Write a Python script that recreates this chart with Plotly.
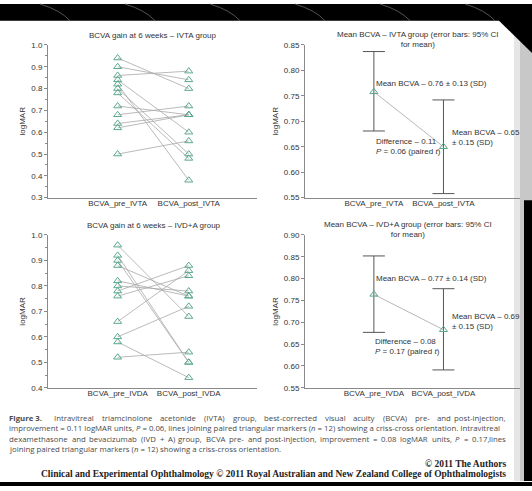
import plotly.graph_objects as go

W, H = 532, 491

# paired logMAR values, IVTA group
ivta_cats = ["BCVA_pre_IVTA", "BCVA_post_IVTA"]
ivta_pre = [0.94, 0.90, 0.86, 0.84, 0.82, 0.80, 0.78, 0.72, 0.68, 0.64, 0.62, 0.50]
ivta_post = [0.80, 0.84, 0.88, 0.60, 0.38, 0.50, 0.48, 0.68, 0.72, 0.68, 0.68, 0.56]

# paired logMAR values, IVD+A group
ivda_cats = ["BCVA_pre_IVDA", "BCVA_post_IVDA"]
ivda_pre = [0.96, 0.92, 0.90, 0.88, 0.82, 0.80, 0.78, 0.76, 0.66, 0.60, 0.58, 0.52]
ivda_post = [0.68, 0.50, 0.50, 0.76, 0.76, 0.78, 0.88, 0.84, 0.86, 0.72, 0.44, 0.54]

# means with 95% CI
ivta_mean = [0.758, 0.650]
ivta_ci_hi = [0.837, 0.742]
ivta_ci_lo = [0.681, 0.558]
ivda_mean = [0.764, 0.683]
ivda_ci_hi = [0.852, 0.777]
ivda_ci_lo = [0.677, 0.591]

GREEN = "#5aa98b"
LINE = "#a8a8a8"
TXT = "#333333"
AX = "#8a8a8a"
FONT = "Liberation Sans, Arial, sans-serif"


def px_x(p):
    return p / W


def px_y(p):
    return 1 - p / H


fig = go.Figure()

marker = dict(symbol="triangle-up-open", size=7, color=GREEN, line=dict(width=1, color=GREEN))

for pre, post in zip(ivta_pre, ivta_post):
    fig.add_trace(go.Scatter(x=ivta_cats, y=[pre, post], mode="lines+markers",
                             line=dict(color=LINE, width=0.8), marker=marker,
                             xaxis="x", yaxis="y", showlegend=False))

for pre, post in zip(ivda_pre, ivda_post):
    fig.add_trace(go.Scatter(x=ivda_cats, y=[pre, post], mode="lines+markers",
                             line=dict(color=LINE, width=0.8), marker=marker,
                             xaxis="x3", yaxis="y3", showlegend=False))


def mean_trace(cats, m, hi, lo, xa, ya):
    return go.Scatter(
        x=cats, y=m, mode="lines+markers",
        line=dict(color="#b8b8b8", width=1), marker=marker,
        error_y=dict(type="data", symmetric=False,
                     array=[h - v for h, v in zip(hi, m)],
                     arrayminus=[v - l for l, v in zip(lo, m)],
                     color="#555555", thickness=1, width=11),
        xaxis=xa, yaxis=ya, showlegend=False)


fig.add_trace(mean_trace(ivta_cats, ivta_mean, ivta_ci_hi, ivta_ci_lo, "x2", "y2"))
fig.add_trace(mean_trace(ivda_cats, ivda_mean, ivda_ci_hi, ivda_ci_lo, "x4", "y4"))

top_dom = [px_y(197.3), px_y(41.7)]
bot_dom = [px_y(391), px_y(235.3)]
left_dom = [px_x(48), px_x(257)]
right_dom = [px_x(305), px_x(520)]

xcommon = dict(type="category", showline=True, linecolor=AX, linewidth=1, ticks="",
               ticklabelstandoff=-2,
               showgrid=False, zeroline=False, tickfont=dict(size=8, color=TXT, family=FONT))
ycommon = dict(showline=True, linecolor=AX, linewidth=1, ticks="outside", ticklen=3,
               tickcolor=AX, showgrid=False, zeroline=False,
               tickfont=dict(size=8, color=TXT, family=FONT),
               title=dict(text="logMAR", font=dict(size=8, color=TXT, family=FONT), standoff=4))

fig.update_layout(
    xaxis=dict(xcommon, domain=left_dom, anchor="y", range=[-0.98, 1.96]),
    yaxis=dict(ycommon, domain=top_dom, anchor="x", range=[0.3, 1.0], dtick=0.1, tickformat=".1f",
               minor=dict(ticks="outside", ticklen=2, tickcolor=AX, dtick=0.05)),
    xaxis2=dict(xcommon, domain=right_dom, anchor="y2", range=[-0.99, 2.1]),
    yaxis2=dict(ycommon, domain=top_dom, anchor="x2", range=[0.55, 0.85], dtick=0.05, tickformat=".2f"),
    xaxis3=dict(xcommon, domain=left_dom, anchor="y3", range=[-0.98, 1.96]),
    yaxis3=dict(ycommon, domain=bot_dom, anchor="x3", range=[0.4, 1.0], dtick=0.1, tickformat=".1f",
                minor=dict(ticks="outside", ticklen=2, tickcolor=AX, dtick=0.05)),
    xaxis4=dict(xcommon, domain=right_dom, anchor="y4", range=[-0.99, 2.1]),
    yaxis4=dict(ycommon, domain=bot_dom, anchor="x4", range=[0.55, 0.90], dtick=0.05, tickformat=".2f"),
)

ann = []


def note(text, x, y, xref, yref, xanchor="left", size=8, color=TXT, family=FONT, align="left"):
    ann.append(dict(text=text, x=x, y=y, xref=xref, yref=yref, xanchor=xanchor, yanchor="middle",
                    showarrow=False, align=align, font=dict(size=size, color=color, family=family)))


# panel titles
note("BCVA gain at 6 weeks – IVTA group", px_x(152), px_y(32), "paper", "paper", "center")
note("Mean BCVA – IVTA group (error bars: 95% CI<br>for mean)", px_x(418), px_y(36.5),
     "paper", "paper", "center", align="center")
note("BCVA gain at 6 weeks – IVD+A group", px_x(154), px_y(226), "paper", "paper", "center")
note("Mean BCVA – IVD+A group (error bars: 95% CI<br>for mean)", px_x(408), px_y(230),
     "paper", "paper", "center", align="center")

# in-plot labels
note("Mean BCVA – 0.76 ± 0.13 (SD)", 0.0, 0.774, "x2", "y2")
note("Difference – 0.11<br><i>P</i> = 0.06 (paired <i>t</i>)", 0.0, 0.651, "x2", "y2")
note("Mean BCVA – 0.65<br>± 0.15 (SD)", 1.09, 0.669, "x2", "y2")
note("Mean BCVA – 0.77 ± 0.14 (SD)", 0.0, 0.80, "x4", "y4")
note("Mean BCVA – 0.69<br>± 0.15 (SD)", 1.09, 0.701, "x4", "y4")
note("Difference – 0.08<br><i>P</i> = 0.17 (paired <i>t</i>)", -0.01, 0.645, "x4", "y4")

# caption, justified word by word like the printed page
cap_font = "Open Sans, Noto Sans, sans-serif"
cap_size = 7.8
cap_col = "#4a4a4a"
caption = [
    "<b>Figure 3.</b> Intravitreal triamcinolone acetonide (IVTA) group, best-corrected visual acuity (BCVA) pre- and post-injection,",
    "improvement = 0.11 logMAR units, <i>P</i> = 0.06, lines joining paired triangular markers (<i>n</i> = 12) showing a criss-cross orientation. Intravitreal",
    "dexamethasone and bevacizumab (IVD + A) group, BCVA pre- and post-injection, improvement = 0.08 logMAR units, <i>P</i> = 0.17, lines",
    "joining paired triangular markers (<i>n</i> = 12) showing a criss-cross orientation.",
]

EM = {" ": 0.26, "i": 0.25, "l": 0.25, "j": 0.25, "f": 0.33, "t": 0.35, "r": 0.41,
      ".": 0.27, ",": 0.27, "(": 0.3, ")": 0.3, "-": 0.32, "=": 0.57, "+": 0.57,
      "m": 0.93, "w": 0.78, "c": 0.48, "s": 0.48, "v": 0.5, "y": 0.5, "x": 0.52,
      "z": 0.47, "k": 0.53, "I": 0.29, "M": 0.9, "D": 0.72, "A": 0.63, "B": 0.65,
      "C": 0.63, "V": 0.6, "T": 0.55, "P": 0.6, "F": 0.53, "R": 0.62}


def est_width(word):
    plain = word.replace("<b>", "").replace("</b>", "").replace("<i>", "").replace("</i>", "")
    w = sum(EM.get(ch, 0.57) for ch in plain) * cap_size
    if "<b>" in word:
        w *= 1.08
    return w


left_px, right_px = 7, 508
# line 2 sets naturally to the full measure: use it to calibrate the estimates
calib = (right_px - left_px) / est_width(caption[1])

for i, line in enumerate(caption):
    yy = px_y(422 + i * 10.4)
    if i in (1, 3):
        note(line, px_x(left_px), yy, "paper", "paper", "left", size=cap_size,
             color=cap_col, family=cap_font)
        continue
    words = line.replace("<b>Figure 3.</b>", "<b>Figure\u00a03.</b>").split(" ")
    widths = [est_width(w) * calib for w in words]
    gap = (right_px - left_px - sum(widths)) / (len(words) - 1)
    xpos = left_px
    for j, wd in enumerate(words):
        if j == len(words) - 1:
            note(wd, px_x(right_px), yy, "paper", "paper", "right", size=cap_size,
                 color=cap_col, family=cap_font)
        else:
            note(wd, px_x(xpos), yy, "paper", "paper", "left", size=cap_size,
                 color=cap_col, family=cap_font)
        xpos += widths[j] + gap

note("© 2011 The Authors", px_x(508), px_y(469), "paper", "paper", "right", size=9.5,
     color="#222222", family="Liberation Serif, serif")
note("Clinical and Experimental Ophthalmology © 2011 Royal Australian and New Zealand College of Ophthalmologists",
     px_x(508), px_y(479), "paper", "paper", "right", size=9.5, color="#222222",
     family="Liberation Serif, serif")

for a in ann[-2:]:
    a["font"]["weight"] = "bold"

# page frame: dark scan border
shapes = [
    dict(type="rect", xref="paper", yref="paper", x0=0, x1=1, y0=px_y(17), y1=1,
         fillcolor="black", line=dict(width=0), layer="above"),
    dict(type="path", xref="paper", yref="paper",
         path=f"M {px_x(498)} {px_y(16)} L 1 {px_y(16)} L 1 {px_y(50)} Z",
         fillcolor="black", line=dict(width=0), layer="above"),
    dict(type="rect", xref="paper", yref="paper", x0=px_x(514), x1=px_x(520), y0=px_y(486), y1=px_y(17),
         fillcolor="#e6e6e6", line=dict(width=0), layer="below"),
    dict(type="rect", xref="paper", yref="paper", x0=px_x(520), x1=1, y0=px_y(486), y1=px_y(17),
         fillcolor="#c8c8c8", line=dict(width=0), layer="below"),
    dict(type="rect", xref="paper", yref="paper", x0=px_x(524), x1=1, y0=px_y(486), y1=px_y(200),
         fillcolor="black", line=dict(width=0), layer="above"),
    dict(type="rect", xref="paper", yref="paper", x0=0, x1=1, y0=0, y1=px_y(487),
         fillcolor="black", line=dict(width=0), layer="above"),
]
for k in range(6):
    x0 = 40 + k * 85
    shapes.append(dict(type="path", xref="paper", yref="paper",
                       path=f"M {px_x(x0)} 1 Q {px_x(x0 + 20)} {px_y(6)} {px_x(x0 + 30)} {px_y(17)}",
                       line=dict(color="#6a6a6a", width=0.8), layer="above"))

fig.update_layout(
    width=W, height=H, autosize=False,
    margin=dict(l=0, r=0, t=0, b=0),
    paper_bgcolor="white", plot_bgcolor="white",
    font=dict(family=FONT, size=8, color=TXT),
    annotations=ann, shapes=shapes, showlegend=False,
)

fig.write_html("out.html", config={"displayModeBar": False},
               post_script="document.body.style.margin='0';")
